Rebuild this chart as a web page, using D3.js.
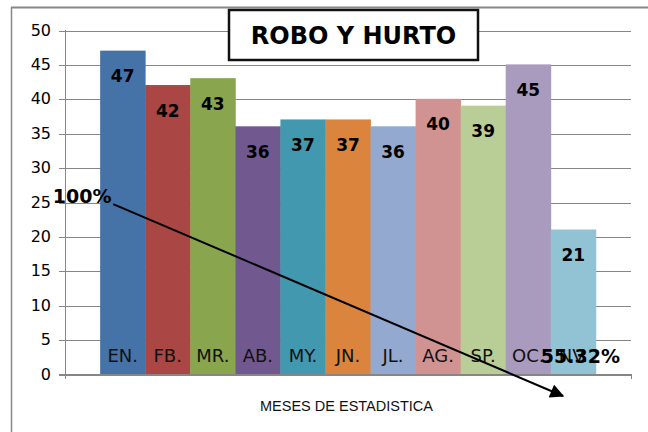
<!DOCTYPE html>
<html>
<head>
<meta charset="utf-8">
<script src="https://cdn.jsdelivr.net/npm/d3@7"></script>
<style>
  body { margin: 0; background: #fff; }
  svg { display: block; }
</style>
</head>
<body>
<div id="grafico"></div>
<script>
// datos del grafico
var meses = ["EN.", "FB.", "MR.", "AB.", "MY.", "JN.", "JL.", "AG.", "SP.", "OC.", "NV."];
var valores = [47, 42, 43, 36, 37, 37, 36, 40, 39, 45, 21];
var colores = ["#4572A7", "#AA4643", "#89A54E", "#71588F", "#4198AF", "#DB843D",
               "#93A9CF", "#D19392", "#B9CD96", "#A99BBD", "#92C3D5"];
var ticksY = [0, 5, 10, 15, 20, 25, 30, 35, 40, 45, 50];
var titulo = "ROBO Y HURTO";
var tituloX = "MESES DE ESTADISTICA";
// flecha de tendencia (indice de mes, valor)
var flecha = [{i: -0.21, v: 24.7}, {i: 9.77, v: -3.2}];
var porcentajes = [{t: "100%", i: -0.25, v: 24.85, anchor: "end"},
                   {t: "55.32%", i: 9.28, v: 1.64, anchor: "start"}];

var W = 648, H = 432;
var margin = {top: 30, right: 17, bottom: 58, left: 65},
    width = W - margin.left - margin.right,
    height = H - margin.top - margin.bottom;

var root = d3.select("#grafico").append("svg")
    .attr("width", W)
    .attr("height", H);

var defs = root.append("defs");
defs.append("marker")
    .attr("id", "punta")
    .attr("viewBox", "0 0 10 10")
    .attr("refX", 9).attr("refY", 5)
    .attr("markerWidth", 16).attr("markerHeight", 14)
    .attr("markerUnits", "userSpaceOnUse")
    .attr("orient", "auto")
  .append("path")
    .attr("d", "M0,0 L10,5 L0,10 z")
    .attr("fill", "#000");

// borde del area del grafico
root.append("line").attr("x1", 11).attr("x2", W).attr("y1", 7.5).attr("y2", 7.5)
    .attr("stroke", "#878787").attr("stroke-width", 2);
root.append("line").attr("x1", 11.5).attr("x2", 11.5).attr("y1", 7).attr("y2", H)
    .attr("stroke", "#878787").attr("stroke-width", 1.5);

var svg = root.append("g")
    .attr("transform", "translate(" + margin.left + "," + margin.top + ")");

var x = d3.scaleBand()
    .domain(meses)
    .range([0, width])
    .paddingInner(0)
    .paddingOuter(0.78);

var y = d3.scaleLinear()
    .domain([0, 50])
    .range([height, 0]);

var bw = x.bandwidth();
var xi = d3.scaleLinear()
    .domain([0, meses.length - 1])
    .range([x(meses[0]) + bw / 2, x(meses[meses.length - 1]) + bw / 2]);

// grid
svg.append("g")
    .attr("class", "grid")
    .call(d3.axisLeft(y).tickValues(ticksY).tickSize(-width).tickFormat(""))
    .call(function(g) { g.select(".domain").remove(); })
    .selectAll("line")
    .attr("stroke", "#868686")
    .attr("shape-rendering", "crispEdges")
    .attr("transform", "translate(0,0.5)");

svg.selectAll(".grid .tick line").attr("x1", -6);

// eje y
var ejeY = svg.append("g")
    .call(d3.axisLeft(y).tickValues(ticksY).tickSize(0).tickPadding(14));
ejeY.select(".domain").remove();
ejeY.selectAll("text")
    .attr("font-family", "DejaVu Sans")
    .attr("font-size", 16)
    .attr("fill", "#000");

svg.append("line")
    .attr("x1", 0.5).attr("x2", 0.5)
    .attr("y1", 0).attr("y2", height + 5)
    .attr("stroke", "#868686");
svg.append("line")
    .attr("x1", width + 0.5).attr("x2", width + 0.5)
    .attr("y1", height).attr("y2", height + 5)
    .attr("stroke", "#868686");

// barras
svg.selectAll(".barra")
    .data(meses)
    .enter().append("rect")
    .attr("class", "barra")
    .attr("x", function(d) { return x(d); })
    .attr("width", bw + 0.4)
    .attr("y", function(d, i) { return y(valores[i]); })
    .attr("height", function(d, i) { return height - y(valores[i]); })
    .attr("fill", function(d, i) { return colores[i]; });

// valores
svg.selectAll(".valor")
    .data(meses)
    .enter().append("text")
    .attr("x", function(d) { return x(d) + bw / 2; })
    .attr("y", function(d, i) { return y(valores[i]) + 31.5; })
    .attr("text-anchor", "middle")
    .attr("font-family", "DejaVu Sans")
    .attr("font-weight", "bold")
    .attr("font-size", 17)
    .text(function(d, i) { return valores[i]; });

// nombres de mes dentro de la barra
svg.selectAll(".mes")
    .data(meses)
    .enter().append("text")
    .attr("x", function(d) { return x(d) + bw / 2; })
    .attr("y", height - 12)
    .attr("text-anchor", "middle")
    .attr("font-family", "DejaVu Sans")
    .attr("font-size", 18)
    .attr("fill", "#111")
    .text(function(d) { return d; });

// eje x
svg.append("line")
    .attr("x1", -6).attr("x2", width + 0.5)
    .attr("y1", height + 0.5).attr("y2", height + 0.5)
    .attr("stroke", "#868686");

svg.append("text")
    .attr("x", 281.5)
    .attr("y", height + 36.7)
    .attr("text-anchor", "middle")
    .attr("font-family", "Liberation Sans")
    .attr("font-size", 14.5)
    .attr("fill", "#111")
    .text(tituloX);

// flecha
svg.append("line")
    .attr("x1", xi(flecha[0].i)).attr("y1", y(flecha[0].v))
    .attr("x2", xi(flecha[1].i)).attr("y2", y(flecha[1].v))
    .attr("stroke", "#000")
    .attr("stroke-width", 2)
    .attr("marker-end", "url(#punta)");

svg.selectAll(".pct")
    .data(porcentajes)
    .enter().append("text")
    .attr("x", function(d) { return xi(d.i); })
    .attr("y", function(d) { return y(d.v); })
    .attr("text-anchor", function(d) { return d.anchor; })
    .attr("font-family", "DejaVu Sans")
    .attr("font-weight", "bold")
    .attr("font-size", 19)
    .text(function(d) { return d.t; });

// titulo
root.append("rect")
    .attr("x", 229).attr("y", 10)
    .attr("width", 249).attr("height", 50)
    .attr("fill", "#fff")
    .attr("stroke", "#111")
    .attr("stroke-width", 2.5);
root.append("text")
    .attr("x", 353.5).attr("y", 44)
    .attr("text-anchor", "middle")
    .attr("font-family", "DejaVu Sans")
    .attr("font-weight", "bold")
    .attr("font-size", 24)
    .text(titulo);
</script>
</body>
</html>
